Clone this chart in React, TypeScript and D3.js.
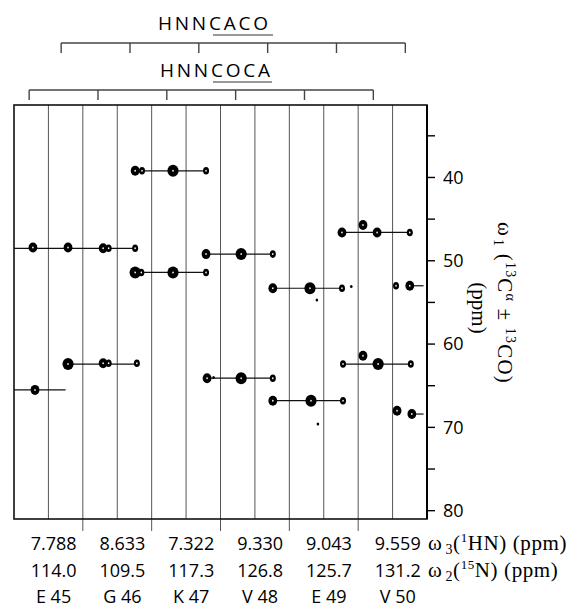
import React from "react";
import * as d3 from "d3";

// residues, one pair of strips each (HNNCOCA, HNNCACO)
const residues = ["E45", "G46", "K47", "V48", "E49", "V50"];
const hnShifts = ["7.788", "8.633", "7.322", "9.330", "9.043", "9.559"];
const nShifts = ["114.0", "109.5", "117.3", "126.8", "125.7", "131.2"];
const yTicks = [35, 40, 45, 50, 55, 60, 65, 70, 75, 80];

// sequential walk connectors: [from strip, to strip, ppm]
const walks: [number, number, number][] = [
  [3.52, 5.58, 39.2],
  [0, 3.55, 48.5],
  [5.58, 7.52, 49.2],
  [3.52, 5.58, 51.4],
  [7.52, 9.53, 53.3],
  [9.53, 11.5, 46.6],
  [11.5, 11.9, 53.0],
  [1.57, 3.57, 62.4],
  [0, 1.5, 65.5],
  [5.58, 7.52, 64.1],
  [7.52, 9.56, 66.8],
  [9.56, 11.53, 62.4],
  [11.56, 11.9, 68.4],
];

// peaks: [strip position, ppm, size]
const peaks: [number, number, string][] = [
  [3.52, 39.2, "m"], [3.72, 39.2, "s"], [4.62, 39.2, "l"], [5.58, 39.2, "s"],
  [0.55, 48.4, "m"], [1.57, 48.4, "m"], [2.59, 48.5, "m"], [2.75, 48.5, "s"], [3.52, 48.5, "s"],
  [5.58, 49.2, "m"], [6.6, 49.2, "l"], [7.52, 49.2, "s"],
  [3.52, 51.4, "l"], [3.7, 51.4, "s"], [4.62, 51.4, "l"], [5.58, 51.4, "s"],
  [7.52, 53.3, "m"], [8.6, 53.3, "l"], [9.53, 53.3, "s"], [8.8, 54.7, "t"], [9.8, 53.1, "t"],
  [9.53, 46.6, "m"], [10.55, 46.6, "m"], [11.5, 46.6, "s"], [10.14, 45.7, "m"],
  [11.1, 53.0, "s"], [11.5, 53.0, "m"],
  [1.57, 62.4, "l"], [2.59, 62.3, "m"], [2.75, 62.3, "s"], [3.57, 62.3, "s"],
  [0.61, 65.5, "m"],
  [5.61, 64.1, "m"], [5.8, 64.0, "t"], [6.6, 64.1, "l"], [7.52, 64.1, "s"],
  [7.52, 66.8, "m"], [8.63, 66.8, "l"], [9.56, 66.8, "s"],
  [9.56, 62.4, "s"], [10.58, 62.4, "l"], [11.53, 62.4, "s"], [10.14, 61.4, "m"],
  [11.13, 68.0, "m"], [11.56, 68.4, "m"],
  [8.83, 69.6, "t"],
];

const sizes: Record<string, [number, number]> = {
  l: [5.6, 6], m: [4.4, 5], s: [3, 3.8], t: [1.3, 1.5],
};

const sans = "'Open Sans', 'DejaVu Sans', sans-serif";
const serif = "'Liberation Serif', 'DejaVu Serif', serif";

export default function App() {
  const width = 579, height = 608;
  const x = d3.scaleLinear().domain([0, 12]).range([14, 427]);
  const y = d3.scaleLinear().domain([31.3, 81]).range([105, 519]);
  const [x0, x1] = x.range();
  const [y0, y1] = y.range();

  const lines = d3.range(1, 12);
  const cocaTicks = residues.map((_, i) => x(2 * i + 0.44));
  const cacoTicks = residues.map((_, i) => x(2 * i + 1.37));

  const bracket = (ticks: number[], yy: number) => (
    <g stroke="#444" strokeWidth={1.4} fill="none">
      <line x1={ticks[0]} x2={ticks[ticks.length - 1]} y1={yy} y2={yy} />
      {ticks.map((t, i) => (
        <line key={i} x1={t} x2={t} y1={yy} y2={yy + 10} />
      ))}
    </g>
  );

  return (
    <svg width={width} height={height} style={{ position: "absolute", left: 0, top: 0, background: "#fff" }}>
      {/* top brackets */}
      <text x={158} y={30} fontFamily={sans} fontSize={19} textLength={110} lengthAdjust="spacing">HNNCACO</text>
      <line x1={213} x2={273} y1={35} y2={35} stroke="#333" strokeWidth={1} />
      {bracket(cacoTicks, 43)}
      <text x={160} y={77} fontFamily={sans} fontSize={19} textLength={110} lengthAdjust="spacing">HNNCOCA</text>
      <line x1={213} x2={272} y1={82} y2={82} stroke="#333" strokeWidth={1} />
      {bracket(cocaTicks, 90)}

      {/* strip separators */}
      {lines.map(k => (
        <line key={k} x1={x(k)} x2={x(k)} y1={y0} y2={k % 2 === 0 ? y1 + 12 : y1}
          stroke="#555" strokeWidth={1} />
      ))}

      {/* frame */}
      <rect x={x0} y={y0} width={x1 - x0} height={y1 - y0} fill="none" stroke="#111" strokeWidth={1.6} />
      <line x1={x1} x2={x1} y1={y0} y2={y1} stroke="#000" strokeWidth={2} />

      {/* walks */}
      {walks.map((w, i) => (
        <line key={i} x1={x(w[0])} x2={x(w[1])} y1={y(w[2])} y2={y(w[2])} stroke="#111" strokeWidth={1.2} />
      ))}

      {/* peaks */}
      {peaks.map((p, i) => {
        const [rx, ry] = sizes[p[2]];
        return (
          <g key={i}>
            <ellipse cx={x(p[0])} cy={y(p[1])} rx={rx} ry={ry} fill="#000" />
            {p[2] !== "t" && (
              <ellipse cx={x(p[0])} cy={y(p[1])} rx={0.8} ry={1} fill="#fff" />
            )}
          </g>
        );
      })}

      {/* right axis */}
      {yTicks.map(t => (
        <g key={t}>
          <line x1={x1} x2={x1 + 8} y1={y(t)} y2={y(t)} stroke="#000" strokeWidth={1.4} />
          {t % 10 === 0 && (
            <text x={x1 + 16} y={y(t)} dy="0.35em" fontFamily={sans} fontSize={18}>{t}</text>
          )}
        </g>
      ))}
      <text transform="translate(472,308) rotate(90)" fontFamily={serif} fontSize={21} textAnchor="middle">(ppm)</text>
      <text transform="translate(498,303) rotate(90)" fontFamily={serif} fontSize={21} letterSpacing={1.2} textAnchor="middle">
        ω<tspan fontSize={14} dx={2} dy={4}>1</tspan>
        <tspan dy={-4}> (</tspan>
        <tspan fontSize={14} dy={-8}>13</tspan>
        <tspan dy={8}>C</tspan>
        <tspan fontSize={14} dy={-8}>α</tspan>
        <tspan dy={8}> ± </tspan>
        <tspan fontSize={14} dy={-8}>13</tspan>
        <tspan dy={8}>CO)</tspan>
      </text>

      {/* bottom labels */}
      {residues.map((r, i) => {
        const cx = x(2 * i + 1.15);
        return (
          <g key={r} fontFamily={sans} fontSize={18} textAnchor="middle">
            <text x={cx} y={550}>{hnShifts[i]}</text>
            <text x={cx} y={577}>{nShifts[i]}</text>
            <text x={cx} y={603}>{r.replace(/^([A-Z])/, "$1 ")}</text>
          </g>
        );
      })}
      <text x={428} y={550} fontFamily={serif} fontSize={21} letterSpacing={0.6}>
        ω<tspan fontSize={14} dx={3} dy={4}>3</tspan>
        <tspan dy={-4}>(</tspan>
        <tspan fontSize={13} dy={-8}>1</tspan>
        <tspan dy={8}>HN) (ppm)</tspan>
      </text>
      <text x={428} y={577} fontFamily={serif} fontSize={21} letterSpacing={0.6}>
        ω<tspan fontSize={14} dx={3} dy={4}>2</tspan>
        <tspan dy={-4}>(</tspan>
        <tspan fontSize={13} dy={-8}>15</tspan>
        <tspan dy={8}>N) (ppm)</tspan>
      </text>
    </svg>
  );
}
